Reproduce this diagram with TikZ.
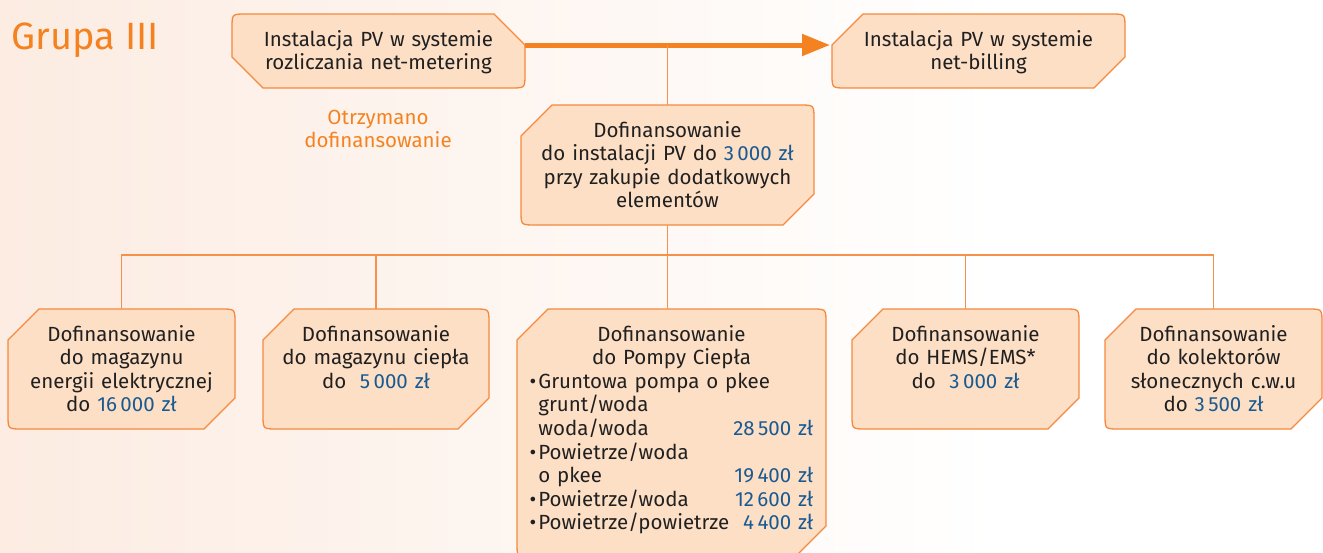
\documentclass[tikz,border=0pt]{standalone}
\usepackage{fontspec}
\setmainfont{Fira Sans}
\usetikzlibrary{arrows.meta,calc,backgrounds}

\definecolor{pvorange}{RGB}{245,130,32}
\definecolor{pvline}{RGB}{245,137,61}
\definecolor{pvlink}{RGB}{245,145,75}
\definecolor{pvfill}{RGB}{253,223,198}
\definecolor{pvblue}{RGB}{24,90,145}
\definecolor{pvtext}{RGB}{32,32,32}
\definecolor{bgpeach}{RGB}{252,236,226}

\newcommand{\kwota}[1]{\textcolor{pvblue}{#1}}
\newcommand{\pkt}{•\kern2pt}
% box: top-left and bottom-right cut, other corners round
\newcommand{\cutbox}[1]{%
  \filldraw[boxline] ($(#1.north west)+(0,31)$) -- ($(#1.north west)+(31,0)$)
    -- ($(#1.north east)+(-14,0)$) .. controls (#1.north east) .. ($(#1.north east)+(0,14)$)
    -- ($(#1.south east)+(0,-31)$) -- ($(#1.south east)+(-31,0)$)
    -- ($(#1.south west)+(14,0)$) .. controls (#1.south west) .. ($(#1.south west)+(0,-14)$)
    -- cycle;}
% mirrored box
\newcommand{\cutboxflip}[1]{%
  \filldraw[boxline] ($(#1.north west)+(0,14)$) .. controls (#1.north west) .. ($(#1.north west)+(14,0)$)
    -- ($(#1.north east)+(-31,0)$) -- ($(#1.north east)+(0,31)$)
    -- ($(#1.south east)+(0,-14)$) .. controls (#1.south east) .. ($(#1.south east)+(-14,0)$)
    -- ($(#1.south west)+(31,0)$) -- ($(#1.south west)+(0,-31)$)
    -- cycle;}

\tikzset{
  cell/.style={anchor=north, inner sep=0pt, outer sep=0pt, align=center, text=pvtext,
    font=\fontsize{20.5}{23.6}\selectfont, text height=32pt},
  boxline/.style={draw=pvline, fill=pvfill, line width=1.3pt},
  link/.style={draw=pvlink, line width=1.6pt},
  flow/.style={draw=pvorange, line width=5pt, -{Triangle[length=28pt,width=21pt]}},
}

\begin{document}
\begin{tikzpicture}[x=1pt,y=1pt,yscale=-1,xscale=1]
            \useasboundingbox (0,0) rectangle (1323,552);
            \begin{pgfonlayer}{background}
            \fill[white] (0,0) rectangle (1323,552);
            \shade[left color=bgpeach, right color=white] (0,0) rectangle (1000,552);
            \end{pgfonlayer}

            % Text Node
            \node[anchor=base west, text=pvorange, font=\fontsize{38}{40}\selectfont] (grupa) at (8,49) {Grupa III};
            % Text Node
            \node[text=pvorange, align=center, font=\fontsize{20.5}{23.6}\selectfont] (otrzym) at (378,129) {Otrzymano\\dofinansowanie};

            % Text Node
            \node[cell, text width=293pt, text depth=42pt] (pvmeter) at (378.5,14) {Instalacja PV w systemie\\rozliczania net-metering};
            % Text Node
            \node[cell, text width=293pt, text depth=42pt] (pvbill) at (978.5,14) {Instalacja PV w systemie\\net-billing};
            % Text Node
            \node[cell, text width=293pt, text depth=88pt] (pvsub) at (667.5,105) {Dofinansowanie\\do instalacji PV do \kwota{3\,000 zł}\\przy zakupie dodatkowych\\elementów};

            % Text Node
            \node[cell, text width=227pt, text depth=88pt] (magel) at (121.5,309) {Dofinansowanie\\do magazynu\\energii elektrycznej\\do \kwota{16\,000 zł}};
            % Text Node
            \node[cell, text width=226pt, text depth=88pt] (magc) at (376,309) {Dofinansowanie\\do magazynu ciepła\\do\ \ \kwota{5\,000 zł}};
            % Text Node
            \node[cell, text width=309pt, text depth=216pt] (pompa) at (671.5,309) {%
              \begin{tabular}[t]{@{}l@{\hspace{4pt}}r@{}}
              \multicolumn{2}{@{}c@{}}{Dofinansowanie}\\
              \multicolumn{2}{@{}c@{}}{do Pompy Ciepła}\\
              \multicolumn{2}{@{}l@{}}{\pkt Gruntowa pompa o pkee}\\
              \hphantom{\pkt}grunt/woda & \\
              \hphantom{\pkt}woda/woda & \kwota{28\,500 zł}\\
              \pkt Powietrze/woda & \\
              \hphantom{\pkt}o pkee & \kwota{19\,400 zł}\\
              \pkt Powietrze/woda & \kwota{12\,600 zł}\\
              \pkt Powietrze/powietrze & \kwota{4\,400 zł}
              \end{tabular}};
            % Text Node
            \node[cell, text width=227pt, text depth=88pt] (hems) at (965.5,309) {Dofinansowanie\\do HEMS/EMS*\\do\ \ \kwota{3\,000 zł}};
            % Text Node
            \node[cell, text width=217pt, text depth=88pt] (kolekt) at (1213.5,309) {Dofinansowanie\\do kolektorów\\słonecznych c.w.u\\do \kwota{3\,500 zł}};

            %Shapes
            \begin{pgfonlayer}{background}
            \foreach \n in {pvbill, pvsub, magel, magc, pompa, hems, kolekt} {\cutbox{\n}}
            \cutboxflip{pvmeter}
            \end{pgfonlayer}

            %Lines
            \coordinate (meterjoin) at ($(pvmeter.north east)+(0,31)$);
            \draw[flow] (meterjoin) -- ($(pvbill.north west)+(-2,31)$);
            \draw[link] (pvsub.north) -- (pvsub.north |- meterjoin);
            \coordinate (bar) at ($(pvsub.south)+(0,30)$);
            \draw[link] (pvsub.south) -- (bar) -- (bar |- pompa.north);
            \draw[link] (magel.north) -- (magel.north |- bar) -- (kolekt.north |- bar) -- (kolekt.north);
            \foreach \n in {magc, hems} \draw[link] (\n.north) -- (\n.north |- bar);

            \end{tikzpicture}
\end{document}
